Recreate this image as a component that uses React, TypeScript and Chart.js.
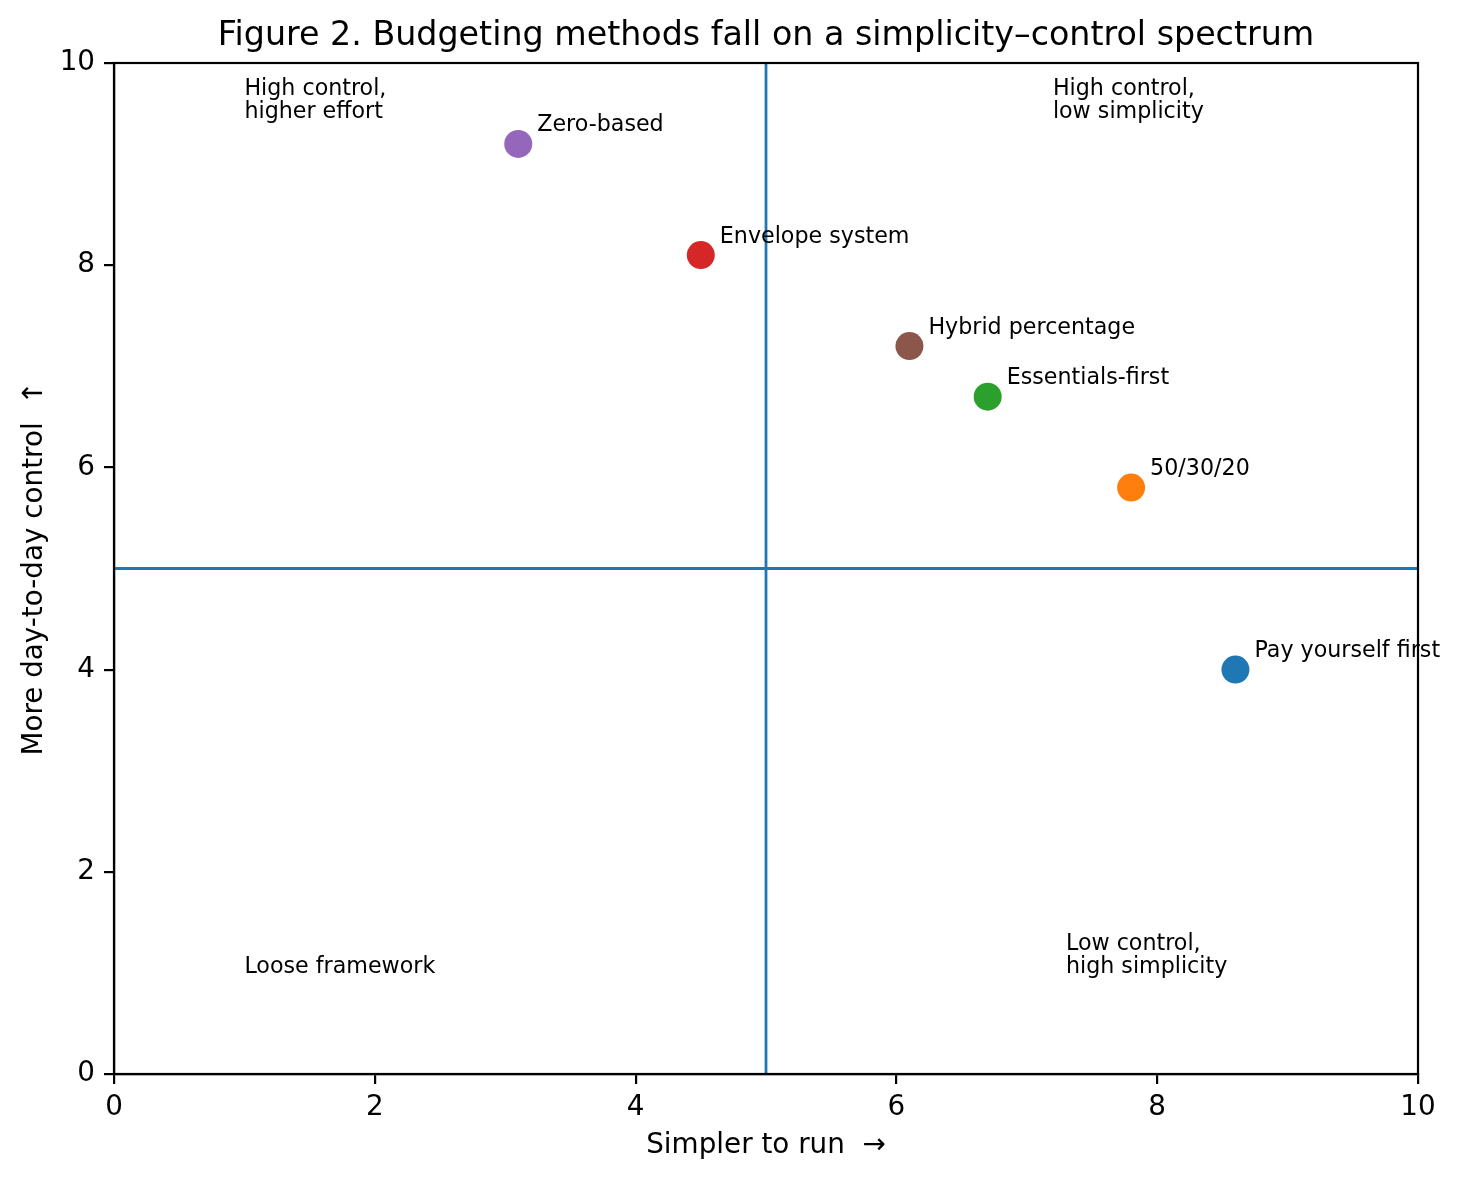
import React, { useEffect, useRef } from "react";
import { Chart, registerables } from "chart.js";

Chart.register(...registerables);

// ---- data ----
const methods = [
  "Pay yourself first",
  "50/30/20",
  "Essentials-first",
  "Envelope system",
  "Zero-based",
  "Hybrid percentage",
];
const simplicity = [8.6, 7.8, 6.7, 4.5, 3.1, 6.1];
const control = [4.0, 5.8, 6.7, 8.1, 9.2, 7.2];
const pointColors = ["#1f77b4", "#ff7f0e", "#2ca02c", "#d62728", "#9467bd", "#8c564b"];

const quadrantTexts = [
  "High control,\nhigher effort",
  "High control,\nlow simplicity",
  "Loose framework",
  "Low control,\nhigh simplicity",
];
const quadrantX = [1, 7.2, 1, 7.3];
const quadrantY = [9.46, 9.46, 1, 1];

const dividerX = 5;
const dividerY = 5;

const titleText = "Figure 2. Budgeting methods fall on a simplicity\u2013control spectrum";
const xLabel = "Simpler to run  \u2192";
const yLabel = "More day-to-day control  \u2191";

const FONT = "'DejaVu Sans', sans-serif";
const W = 1462;
const H = 1180;

const overlayPlugin = {
  id: "overlay",
  beforeDatasetsDraw(chart: any) {
    const { ctx, chartArea, scales } = chart;
    const xs = scales.x;
    const ys = scales.y;
    ctx.save();
    ctx.strokeStyle = "#1f77b4";
    ctx.lineWidth = 2.78;
    const px = xs.getPixelForValue(dividerX);
    const py = ys.getPixelForValue(dividerY);
    ctx.beginPath();
    ctx.moveTo(px, chartArea.top);
    ctx.lineTo(px, chartArea.bottom);
    ctx.moveTo(chartArea.left, py);
    ctx.lineTo(chartArea.right, py);
    ctx.stroke();
    ctx.restore();
  },
  afterDatasetsDraw(chart: any) {
    const { ctx, chartArea, scales } = chart;
    const xs = scales.x;
    const ys = scales.y;
    ctx.save();
    ctx.fillStyle = "#000";
    ctx.textBaseline = "alphabetic";
    ctx.textAlign = "left";
    // point labels
    ctx.font = `22.2px ${FONT}`;
    methods.forEach((m, i) => {
      const x = xs.getPixelForValue(simplicity[i]);
      const y = ys.getPixelForValue(control[i]);
      ctx.fillText(m, x + 19, y - 12.5);
    });
    // quadrant labels (last line baseline at anchor)
    quadrantTexts.forEach((t, i) => {
      const lines = t.split("\n");
      const x = xs.getPixelForValue(quadrantX[i]);
      const yb = ys.getPixelForValue(quadrantY[i]);
      const step = 22.5;
      lines.forEach((ln, j) => {
        ctx.fillText(ln, x, yb - (lines.length - 1 - j) * step);
      });
    });
    // frame
    ctx.strokeStyle = "#000";
    ctx.lineWidth = 2.2;
    ctx.strokeRect(chartArea.left, chartArea.top, chartArea.right - chartArea.left, chartArea.bottom - chartArea.top);
    // title
    const cx = (chartArea.left + chartArea.right) / 2;
    ctx.textAlign = "center";
    ctx.font = `33.3px ${FONT}`;
    ctx.fillText(titleText, cx, 45);
    // x label
    ctx.font = `27.8px ${FONT}`;
    ctx.fillText(xLabel, cx, 1153);
    // y label
    const cy = (chartArea.top + chartArea.bottom) / 2;
    ctx.translate(42, cy);
    ctx.rotate(-Math.PI / 2);
    ctx.fillText(yLabel, 0, 0);
    ctx.restore();
  },
};

export default function App() {
  const ref = useRef<HTMLCanvasElement | null>(null);
  useEffect(() => {
    if (!ref.current) return;
    const tickFont = { family: FONT, size: 27.8 };
    const chart = new Chart(ref.current, {
      type: "scatter",
      data: {
        datasets: [
          {
            label: "methods",
            data: methods.map((_, i) => ({ x: simplicity[i], y: control[i] })),
            backgroundColor: pointColors,
            borderColor: pointColors,
            borderWidth: 0,
            pointRadius: 14,
            pointHoverRadius: 14,
          },
        ],
      },
      options: {
        responsive: false,
        animation: false,
        devicePixelRatio: 1,
        layout: { padding: { left: 0, right: 44, top: 63, bottom: 0 } },
        plugins: { legend: { display: false }, tooltip: { enabled: false }, title: { display: false } },
        events: [],
        scales: {
          x: {
            type: "linear",
            min: 0,
            max: 10,
            ticks: { stepSize: 2, color: "#000", font: tickFont, padding: 7, maxRotation: 0 },
            grid: { drawOnChartArea: false, drawTicks: true, tickLength: 10, color: "#000", lineWidth: 2.2 },
            border: { display: true, color: "#000", width: 2.2 },
            afterFit: (s: any) => {
              s.height = 106;
            },
          },
          y: {
            type: "linear",
            min: 0,
            max: 10,
            ticks: { stepSize: 2, color: "#000", font: tickFont, padding: 9 },
            grid: { drawOnChartArea: false, drawTicks: true, tickLength: 10, color: "#000", lineWidth: 2.2 },
            border: { display: true, color: "#000", width: 2.2 },
            afterFit: (s: any) => {
              s.width = 114;
            },
          },
        },
      } as any,
      plugins: [overlayPlugin],
    });
    return () => chart.destroy();
  }, []);
  return (
    <div style={{ position: "absolute", left: 0, top: 0, width: W, height: H, background: "#fff" }}>
      <canvas ref={ref} width={W} height={H} style={{ width: W, height: H, display: "block" }} />
    </div>
  );
}
